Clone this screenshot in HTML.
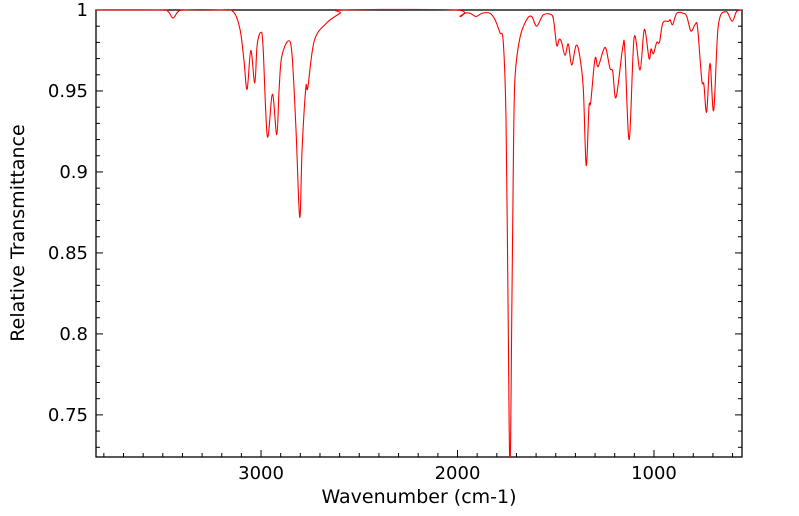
<!DOCTYPE html>
<html><head><meta charset="utf-8"><style>
html,body{margin:0;padding:0;background:#fff;}
svg{display:block;font-family:"DejaVu Sans","Liberation Sans",sans-serif;}
</style></head><body>
<svg id="chart" width="799" height="516" viewBox="0 0 799 516">
<defs><clipPath id="clip"><rect x="96" y="8" width="647" height="449"/></clipPath></defs>
<g id="ticks"></g>
<g id="labels"></g>
<rect x="96" y="10" width="646" height="447" fill="none" stroke="#000" stroke-width="1.3"/>
<path id="spectrum" fill="none" stroke="#ff0000" stroke-width="1.1" clip-path="url(#clip)"/>
<text x="419" y="503" text-anchor="middle" font-size="19">Wavenumber (cm-1)</text>
<text transform="translate(24,233) rotate(-90)" text-anchor="middle" font-size="19">Relative Transmittance</text>
</svg>
<script>
const wavenumbers=[3840,3514,3473,3448,3422,3387,3209,3142,3107,3087,3071,3052,3032,3020,3002,2990,2968,2942,2920,2908,2895,2861,2842,2822,2803,2791,2772,2762,2729,2666,2598,2573,2013,1987,1962,1936,1906,1875,1835,1809,1784,1767,1753,1743,1733,1723,1715,1707,1682,1648,1622,1597,1563,1521,1509,1495,1482,1470,1453,1436,1419,1397,1380,1360,1345,1331,1322,1300,1285,1258,1244,1224,1210,1193,1159,1148,1126,1101,1071,1049,1025,1015,1003,986,972,955,926,918,905,884,851,833,812,791,778,757,746,732,715,696,673,634,602,580,552];
const transmittance=[1.000,1.000,0.999,0.995,0.999,1.000,1.000,0.999,0.988,0.969,0.951,0.975,0.955,0.978,0.986,0.978,0.922,0.948,0.923,0.951,0.971,0.981,0.972,0.926,0.872,0.914,0.952,0.952,0.981,0.992,0.998,1.000,1.000,0.996,0.998,0.998,0.996,0.998,0.998,0.994,0.986,0.980,0.932,0.821,0.716,0.821,0.914,0.959,0.983,0.994,0.996,0.990,0.997,0.997,0.992,0.978,0.982,0.980,0.972,0.979,0.966,0.978,0.973,0.952,0.904,0.940,0.943,0.970,0.965,0.975,0.976,0.964,0.962,0.946,0.977,0.975,0.920,0.983,0.963,0.988,0.970,0.976,0.973,0.980,0.980,0.992,0.993,0.994,0.991,0.998,0.998,0.996,0.987,0.991,0.989,0.957,0.954,0.937,0.967,0.938,0.990,0.999,0.993,0.999,1.000];
const xTicks=[3000,2000,1000];
const yTicks=[1,0.95,0.9,0.85,0.8,0.75];
const xMax=3840,xMin=552,yMin=0.724,yMax=1.0;
const L=96,R=742,T=10,B=457;
function sx(w){return L+(xMax-w)/(xMax-xMin)*(R-L);}
function sy(v){return T+(yMax-v)/(yMax-yMin)*(B-T);}
const NS="http://www.w3.org/2000/svg";
const tg=document.getElementById('ticks'),lg=document.getElementById('labels');
function line(x1,y1,x2,y2){const l=document.createElementNS(NS,'line');l.setAttribute('x1',x1);l.setAttribute('y1',y1);l.setAttribute('x2',x2);l.setAttribute('y2',y2);l.setAttribute('stroke','#000');l.setAttribute('stroke-width','1');


tg.appendChild(l);}
for(let w=600;w<=3800;w+=100){const x=sx(w);const len=(w%1000===0)?7:4;line(x,B,x,B-len);}
for(let k=73;k<=100;k++){const v=k/100;const y=sy(v);const len=(k%5===0)?7:4;line(L,y,L+len,y);line(R,y,R-len,y);}
xTicks.forEach(w=>{const t=document.createElementNS(NS,'text');t.setAttribute('x',sx(w));t.setAttribute('y',B+22);t.setAttribute('text-anchor','middle');t.setAttribute('font-size','18');t.textContent=w;


lg.appendChild(t);});
yTicks.forEach(v=>{const t=document.createElementNS(NS,'text');t.setAttribute('x',88);t.setAttribute('y',sy(v)+6);t.setAttribute('text-anchor','end');t.setAttribute('font-size','18');t.textContent=String(v);


lg.appendChild(t);});
const pts=wavenumbers.map((w,i)=>[sx(w),sy(transmittance[i])]);
let d='M'+pts[0][0].toFixed(2)+','+pts[0][1].toFixed(2);
for(let i=0;i<pts.length-1;i++){const p0=pts[Math.max(0,i-1)],p1=pts[i],p2=pts[i+1],p3=pts[Math.min(pts.length-1,i+2)];
const c1=[p1[0]+(p2[0]-p0[0])/6,p1[1]+(p2[1]-p0[1])/6],c2=[p2[0]-(p3[0]-p1[0])/6,p2[1]-(p3[1]-p1[1])/6];
d+='C'+c1[0].toFixed(2)+','+c1[1].toFixed(2)+' '+c2[0].toFixed(2)+','+c2[1].toFixed(2)+' '+p2[0].toFixed(2)+','+p2[1].toFixed(2);}
document.getElementById('spectrum').setAttribute('d',d);
</script>
</body></html>
